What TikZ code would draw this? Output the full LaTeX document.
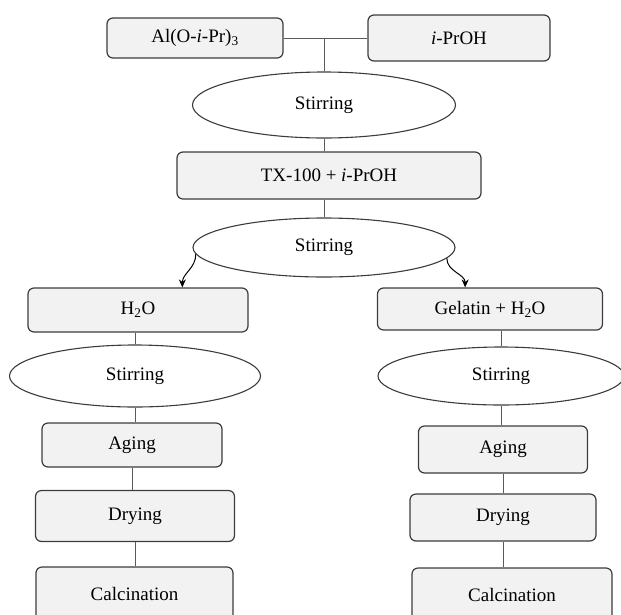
\documentclass[tikz,border=0pt]{standalone}
\usepackage{fontspec}
\setmainfont{Liberation Serif}
\usepackage{tikz}
\usetikzlibrary{shapes.geometric, arrows.meta, positioning, calc}
\definecolor{cBox}{RGB}{242,242,242}
\definecolor{cEdge}{RGB}{60,60,60}
\definecolor{cLink}{RGB}{90,90,90}
\tikzset{
	stepbox/.style  ={rectangle, rounded corners=6pt, draw=cEdge, line width=1.2pt, fill=cBox, align=center, inner sep=0pt},
	stir/.style     ={ellipse, draw=cEdge, line width=1.1pt, fill=white, inner sep=0pt},
	% connectors
	link/.style     ={cLink, line width=1pt},
	flowarrow/.style={-{Stealth[length=8pt, width=7pt]}, line width=1pt, black},
}

\begin{document}
\begin{tikzpicture}[x=1pt, y=-1pt, every node/.style={font=\fontsize{19}{22}\selectfont}]
	\useasboundingbox (0,0) rectangle (621,614);
	% precursors
	\node[stepbox, minimum width=176pt, minimum height=40pt] (al) at (195,38) {Al(O-\textit{i}-Pr)\textsubscript{3}};
	\node[stepbox, minimum width=182pt, minimum height=46pt] (pr) at (459,38) {\textit{i}-PrOH};
	\coordinate (mix) at (324,38);
	\node[stir, minimum width=263pt, minimum height=66pt] (s1) at (324,105) {Stirring};
	\node[stepbox, minimum width=304pt, minimum height=47pt] (tx) at (329,175.5) {TX-100 + \textit{i}-PrOH};
	\node[stir, minimum width=262pt, minimum height=59pt] (s2) at (324,247.5) {Stirring};
	% left branch
	\node[stepbox, minimum width=220pt, minimum height=44pt] (w1) at (138,310) {H\textsubscript{2}O};
	\node[stir, minimum width=251pt, minimum height=62pt] (s3) at (135,376) {Stirring};
	\node[stepbox, minimum width=180pt, minimum height=44pt] (ag1) at (132,445) {Aging};
	\node[stepbox, minimum width=199pt, minimum height=51pt] (dr1) at (135,516) {Drying};
	\node[stepbox, minimum width=197pt, minimum height=54pt] (ca1) at (134.5,594) {Calcination};
	% right branch
	\node[stepbox, minimum width=225pt, minimum height=42pt] (w2) at (490,309) {Gelatin + H\textsubscript{2}O};
	\node[stir, minimum width=246pt, minimum height=58pt] (s4) at (501,376) {Stirring};
	\node[stepbox, minimum width=169pt, minimum height=47pt] (ag2) at (503,449.5) {Aging};
	\node[stepbox, minimum width=186pt, minimum height=47pt] (dr2) at (503,517.5) {Drying};
	\node[stepbox, minimum width=200pt, minimum height=54pt] (ca2) at (512,595) {Calcination};

	\draw[link] (al.east) -- (pr.west);
	\draw[link] (mix) -- (s1.north);
	\draw[link] (s1.south) -- (s1.south |- tx.north);
	\draw[link] (s2.north) -- (s2.north |- tx.south);
	\draw[flowarrow] (s2.183) to[out=-90, in=90] (w1.27);
	\draw[flowarrow] (s2.355) to[out=-90, in=90] (w2.139);
	\draw[link] (s3.north) -- (s3.north |- w1.south);
	\draw[link] (s3.south) -- (s3.south |- ag1.north);
	\draw[link] (ag1.south) -- (ag1.south |- dr1.north);
	\draw[link] (dr1.south) -- (dr1.south |- ca1.north);
	\draw[link] (s4.north) -- (s4.north |- w2.south);
	\draw[link] (s4.south) -- (s4.south |- ag2.north);
	\draw[link] (ag2.south) -- (ag2.south |- dr2.north);
	\draw[link] (dr2.south) -- (dr2.south |- ca2.north);
\end{tikzpicture}
\end{document}
